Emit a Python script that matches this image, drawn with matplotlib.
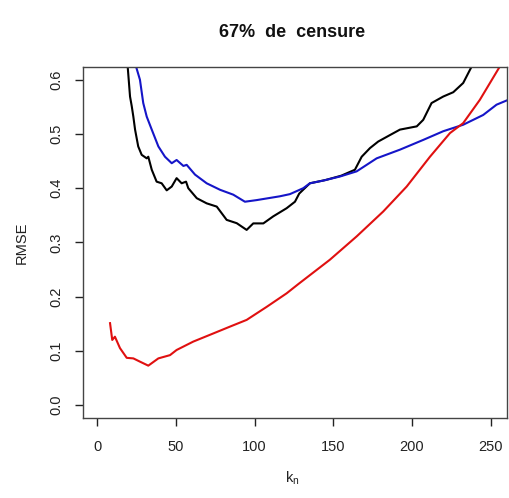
import numpy as np
import matplotlib.pyplot as plt

plt.rcParams['font.family'] = ['Liberation Sans', 'DejaVu Sans']

# values
red_k = [8.1, 9.5, 11.2, 14.4, 18.7, 22.9, 27.1, 32.4, 38.8, 46.2, 50.4, 61, 73.7,
         84.3, 94.9, 107.6, 120.3, 127.7, 147.8, 164.8, 181.7, 196.6, 211.4, 224.1,
         232.5, 243.1, 255.8, 262]
red_rmse = [0.151, 0.120, 0.126, 0.105, 0.087, 0.086, 0.080, 0.0726, 0.086, 0.092,
            0.1015, 0.117, 0.132, 0.1446, 0.157, 0.181, 0.206, 0.223, 0.268, 0.311,
            0.357, 0.403, 0.458, 0.5016, 0.520, 0.563, 0.6245, 0.64]

blue_k = [20, 24.6, 27.1, 29.2, 31.4, 34.6, 38.8, 43, 47.3, 50.4, 54.7, 56.8, 62.1,
          69.5, 78, 86.4, 93.8, 101.3, 107.6, 116, 122.4, 130.9, 135.1, 143.6, 154.2,
          164.8, 177.5, 192.3, 207.1, 219.8, 232.5, 245.2, 253.7, 262]
blue_rmse = [0.75, 0.6245, 0.6, 0.557, 0.532, 0.508, 0.477, 0.458, 0.446, 0.452,
             0.441, 0.443, 0.425, 0.409, 0.397, 0.388, 0.375, 0.378, 0.381, 0.385,
             0.389, 0.400, 0.409, 0.414, 0.4215, 0.431, 0.455, 0.471, 0.489, 0.505,
             0.517, 0.535, 0.554, 0.564]

black_k = [17, 19.3, 20.8, 21.9, 22.9, 24, 26, 28.2, 31.4, 32.4, 34.6, 37.7, 40.9,
           44.1, 47.3, 50.4, 53.6, 56.4, 57.8, 63.2, 69.5, 75.9, 82.2, 88.6, 94.9,
           99.1, 105.5, 111.8, 120.3, 125.6, 128.3, 131.5, 135.1, 145, 155, 163.7,
           168, 173.3, 178.5, 186, 192.3, 203, 207.1, 212.4, 219.8, 226.2, 232.5,
           237.9, 242]
black_rmse = [0.75, 0.6245, 0.569, 0.551, 0.532, 0.508, 0.477, 0.4615, 0.455, 0.458,
              0.434, 0.412, 0.409, 0.396, 0.403, 0.4185, 0.409, 0.412, 0.400, 0.3815,
              0.372, 0.366, 0.3415, 0.3354, 0.323, 0.335, 0.335, 0.348, 0.363, 0.375,
              0.390, 0.399, 0.409, 0.415, 0.423, 0.434, 0.458, 0.474, 0.486, 0.498,
              0.508, 0.514, 0.526, 0.557, 0.569, 0.577, 0.594, 0.6245, 0.66]

fig = plt.figure(figsize=(5.1, 4.98), dpi=100)
ax = fig.add_axes([0.1627, 0.1606, 0.8313, 0.7054])

ax.plot(black_k, black_rmse, color='black', lw=1.5)
ax.plot(blue_k, blue_rmse, color='#1515c8', lw=1.5)
ax.plot(red_k, red_rmse, color='#e01010', lw=1.5)

ax.set_xlim(-9.1, 260.3)
ax.set_ylim(-0.024, 0.624)
ax.set_xticks([0, 50, 100, 150, 200, 250])
ax.set_yticks([0.0, 0.1, 0.2, 0.3, 0.4, 0.5, 0.6])
ax.set_yticklabels(['0.0', '0.1', '0.2', '0.3', '0.4', '0.5', '0.6'],
                   rotation=90, va='center')
ax.tick_params(axis='x', length=6, width=1, pad=10, labelsize=10.5, colors='#222222')
ax.tick_params(axis='y', length=6, width=1, pad=8, labelsize=10.5, colors='#222222')
for s in ax.spines.values():
    s.set_color('#444444')
    s.set_linewidth(1)

fig.text(0.5725, 0.934, '67%  de  censure', ha='center', va='center',
         fontsize=13, fontweight='bold', color='#111111')
fig.text(0.043, 0.5133, 'RMSE', rotation=90, ha='center', va='center',
         fontsize=10.5, color='#222222')
fig.text(0.5725, 0.04, r'$\mathregular{k_n}$', ha='center', va='center',
         fontsize=10.5, color='#222222')

fig.savefig('out.png', dpi=100)
